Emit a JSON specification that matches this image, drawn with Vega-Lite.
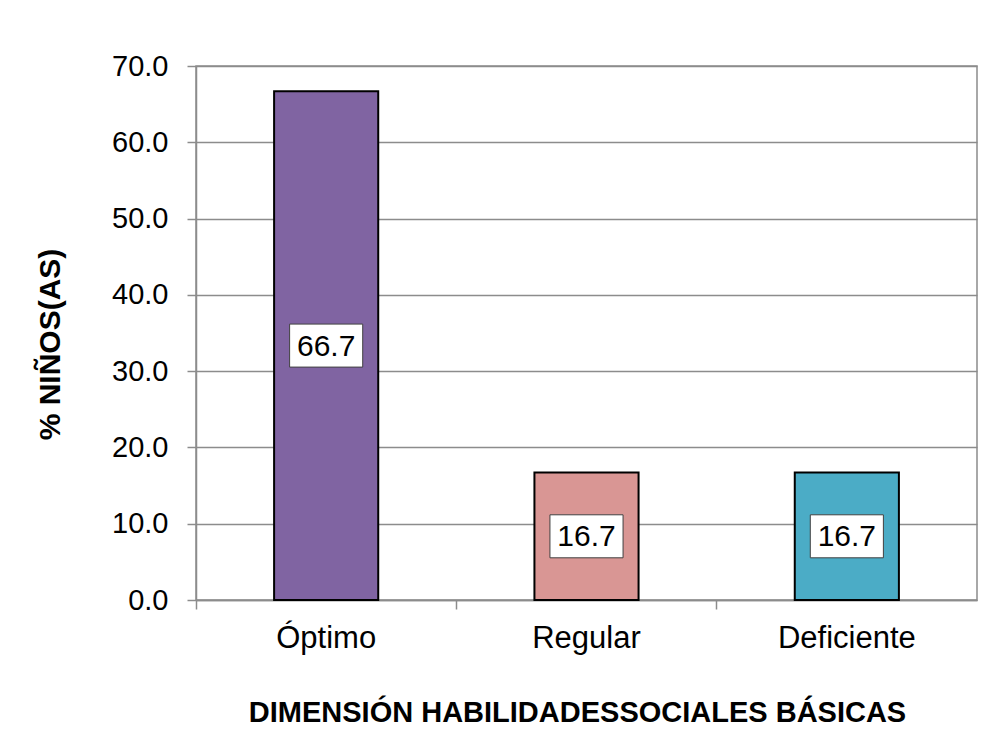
{
  "$schema": "https://vega.github.io/schema/vega-lite/v6.json",
  "autosize": {"type": "none"},
  "width": 781,
  "height": 534,
  "padding": {"left": 196, "top": 66, "right": 23, "bottom": 144},
  "background": "white",
  "config": {
    "font": "Liberation Sans",
    "view": {"stroke": "#8c8c8c", "strokeWidth": 1.5}
  },
  "data": {
    "values": [
      {"categoria": "Óptimo", "porcentaje": 66.7},
      {"categoria": "Regular", "porcentaje": 16.7},
      {"categoria": "Deficiente", "porcentaje": 16.7}
    ]
  },
  "transform": [{"calculate": "datum.porcentaje / 2", "as": "mitad"}],
  "encoding": {
    "x": {
      "field": "categoria",
      "type": "nominal",
      "sort": null,
      "scale": {"paddingInner": 0, "paddingOuter": 0},
      "axis": {
        "title": "DIMENSIÓN HABILIDADESSOCIALES BÁSICAS",
        "titleFont": "Liberation Sans",
        "titleFontSize": 29,
        "titleFontWeight": "bold",
        "titleColor": "#000000",
        "titleX": 381,
        "titleY": 112,
        "titleBaseline": "middle",
        "titleAlign": "center",
        "labelFont": "Liberation Sans",
        "labelFontSize": 31,
        "labelColor": "#000000",
        "labelAngle": 0,
        "labelBaseline": "alphabetic",
        "labelPadding": 38,
        "bandPosition": 0,
        "tickSize": 9,
        "tickColor": "#8c8c8c",
        "tickWidth": 1.5,
        "domainColor": "#8c8c8c",
        "domainWidth": 1.5,
        "grid": false
      }
    }
  },
  "layer": [
    {
      "mark": {"type": "bar", "stroke": "#000000", "strokeWidth": 2, "width": {"band": 0.4}},
      "encoding": {
        "y": {
          "field": "porcentaje",
          "type": "quantitative",
          "scale": {"domain": [0, 70], "nice": false},
          "axis": {
            "title": "% NIÑOS(AS)",
            "titleFont": "Liberation Sans",
            "titleFontSize": 30,
            "titleFontWeight": "bold",
            "titleColor": "#000000",
            "titleX": -146,
            "titleY": 278,
            "titleAngle": -90,
            "titleAlign": "center",
            "titleBaseline": "middle",
            "values": [0, 10, 20, 30, 40, 50, 60, 70],
            "format": ".1f",
            "labelFont": "Liberation Sans",
            "labelFontSize": 29,
            "labelColor": "#000000",
            "labelPadding": 19,
            "tickSize": 9,
            "tickColor": "#8c8c8c",
            "tickWidth": 1.5,
            "domainColor": "#8c8c8c",
            "domainWidth": 1.5,
            "grid": true,
            "gridColor": "#8c8c8c",
            "gridWidth": 1.5
          }
        },
        "color": {
          "field": "categoria",
          "type": "nominal",
          "sort": null,
          "scale": {
            "domain": ["Óptimo", "Regular", "Deficiente"],
            "range": ["#8064A2", "#D99694", "#4BACC6"]
          },
          "legend": null
        }
      }
    },
    {
      "mark": {
        "type": "point",
        "shape": "M-1.7,-1L1.7,-1L1.7,1L-1.7,1Z",
        "size": 1849,
        "filled": true,
        "fill": "#ffffff",
        "stroke": "#404040",
        "strokeWidth": 1,
        "opacity": 1
      },
      "encoding": {
        "y": {"field": "mitad", "type": "quantitative"}
      }
    },
    {
      "mark": {
        "type": "text",
        "font": "Liberation Sans",
        "fontSize": 30,
        "color": "#000000",
        "baseline": "middle",
        "align": "center",
        "dy": 1
      },
      "encoding": {
        "y": {"field": "mitad", "type": "quantitative"},
        "text": {"field": "porcentaje", "type": "quantitative", "format": ".1f"}
      }
    }
  ]
}
